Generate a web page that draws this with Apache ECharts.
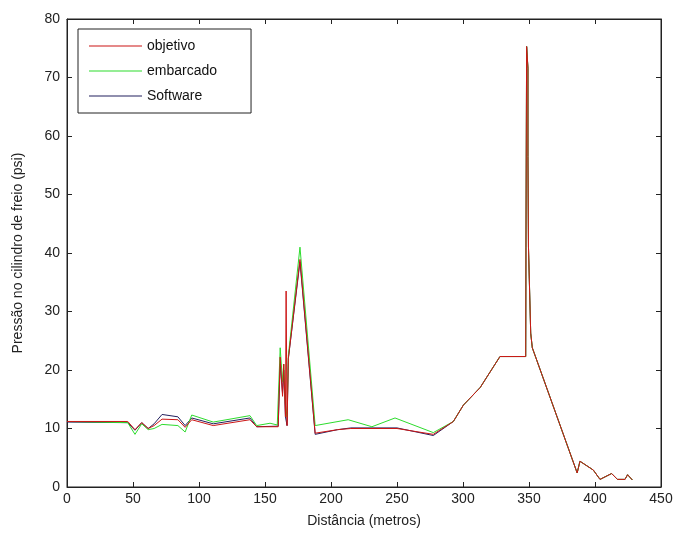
<!DOCTYPE html>
<html><head><meta charset="utf-8">
<script src="https://cdn.jsdelivr.net/npm/echarts@6/dist/echarts.min.js"></script>
<style>html,body{margin:0;padding:0;background:#fff}#c{width:676px;height:533px}</style>
</head><body><div id="c"></div>
<script>
const seriesNames = ['objetivo', 'embarcado', 'Software'];
const xTicks = [0, 50, 100, 150, 200, 250, 300, 350, 400, 450];
const yTicks = [0, 10, 20, 30, 40, 50, 60, 70, 80];

const tailX = [292.7,300.3,313,328,347.5,347.7,348.2,349.2,349.2,349.6,351.3,352.5,386.5,388.6,398.7,403.8,412.6,417,422.7,424.7,428.3];
const tailY = [11.2,14,17,22.3,22.3,41,75.3,71.6,56.5,41,26.3,23.8,2.4,4.4,2.9,1.3,2.3,1.3,1.3,2.1,1.2];

const objetivoX = [0,46,51.5,56.6,61.5,66,72,84,89.5,94.5,110.8,138.6,143.7,153.8,160,161.5,163.3,164.2,165.5,166,166.7,167.7,176.5,188,205,215,250,277.5].concat(tailX);
const objetivoY = [11.2,11.2,9.8,11,10,10.5,11.6,11.5,10.2,11.5,10.5,11.5,10.3,10.3,10.3,22.2,15.5,21,12,33.5,10.5,22,38.9,9.2,9.8,10,10,9].concat(tailY);

const embarcadoX = [0,46,51.5,56.6,61.5,66,72,84,89.5,94.5,110.8,138.6,143.7,153.8,159.3,161.5,163.3,164.2,165.5,166.7,167.7,176.5,188,213,231,248.5,277.5].concat(tailX);
const embarcadoY = [11.2,11,9,10.8,9.8,10,10.7,10.5,9.4,12.3,11.1,12.2,10.5,10.9,10.6,23.8,18,21,14,12,22.5,41,10.5,11.5,10.3,11.8,9.3].concat(tailY);

const softwareX = [0,46,51.5,56.6,61.5,66,72,84,89.5,94.5,110.8,138.6,143.7,160,161.5,163.3,164.2,165.5,166.7,167.7,176.5,188,205,215,250,277.5].concat(tailX);
const softwareY = [11.1,11,9.7,11,10,10.8,12.4,12,10.5,11.8,10.8,11.8,10.3,10.4,21,16,20,12,10.5,22,38.5,9,9.8,10.1,10.1,8.8].concat(tailY);

const colors = {objetivo: '#cc1515', embarcado: '#2ddc2d', Software: '#23205e'};
const pairs = (xs, ys) => xs.map((x, i) => [x, ys[i]]);

const font = 'Liberation Sans, Arial, sans-serif';
function axisParts() {
  return {
    axisLine: {show: true, onZero: false, lineStyle: {color: '#222', width: 1}},
    axisTick: {show: true, inside: true, length: 5, lineStyle: {color: '#222', width: 1}},
    splitLine: {show: false}
  };
}

const chart = echarts.init(document.getElementById('c'));
chart.setOption({
  animation: false,
  backgroundColor: '#fff',
  grid: {left: 67, right: 15, top: 19, bottom: 45.5, containLabel: false,
    show: true, borderColor: '#222', borderWidth: 1, backgroundColor: '#fff'},
  legend: {
    data: seriesNames,
    orient: 'vertical', left: 78, top: 29,
    padding: [10, 34, 10, 11], itemGap: 11, itemWidth: 53, itemHeight: 1,
    icon: 'rect',
    borderColor: '#222', borderWidth: 1, backgroundColor: '#fff',
    textStyle: {fontFamily: font, fontSize: 14, color: '#111', lineHeight: 14}
  },
  xAxis: [
    Object.assign({type: 'value', min: 0, max: 450, interval: 50, position: 'bottom',
      name: 'Distância (metros)', nameLocation: 'middle', nameGap: 27,
      nameTextStyle: {fontFamily: font, fontSize: 14, color: '#222'},
      axisLabel: {fontFamily: font, fontSize: 14, color: '#222', margin: 5,
        formatter: v => xTicks.includes(v) ? String(v) : ''}}, axisParts()),
    Object.assign({type: 'value', min: 0, max: 450, interval: 50, position: 'top',
      axisLabel: {show: false}}, axisParts())
  ],
  yAxis: [
    Object.assign({type: 'value', min: 0, max: 80, interval: 10, position: 'left',
      name: 'Pressão no cilindro de freio (psi)', nameLocation: 'middle', nameGap: 42,
      nameTextStyle: {fontFamily: font, fontSize: 14, color: '#222'},
      axisLabel: {fontFamily: font, fontSize: 14, color: '#222', margin: 7,
        formatter: v => yTicks.includes(v) ? String(v) : ''}}, axisParts()),
    Object.assign({type: 'value', min: 0, max: 80, interval: 10, position: 'right',
      axisLabel: {show: false}}, axisParts())
  ],
  series: [
    {name: 'Software', type: 'line', data: pairs(softwareX, softwareY), symbol: 'none', z: 2,
      lineStyle: {color: colors.Software, width: 1}, itemStyle: {color: colors.Software}},
    {name: 'embarcado', type: 'line', data: pairs(embarcadoX, embarcadoY), symbol: 'none', z: 3,
      lineStyle: {color: colors.embarcado, width: 1}, itemStyle: {color: colors.embarcado}},
    {name: 'objetivo', type: 'line', data: pairs(objetivoX, objetivoY), symbol: 'none', z: 4,
      lineStyle: {color: colors.objetivo, width: 1}, itemStyle: {color: colors.objetivo}},
    {type: 'line', xAxisIndex: 1, yAxisIndex: 1, data: [], silent: true}
  ]
});
</script></body></html>
